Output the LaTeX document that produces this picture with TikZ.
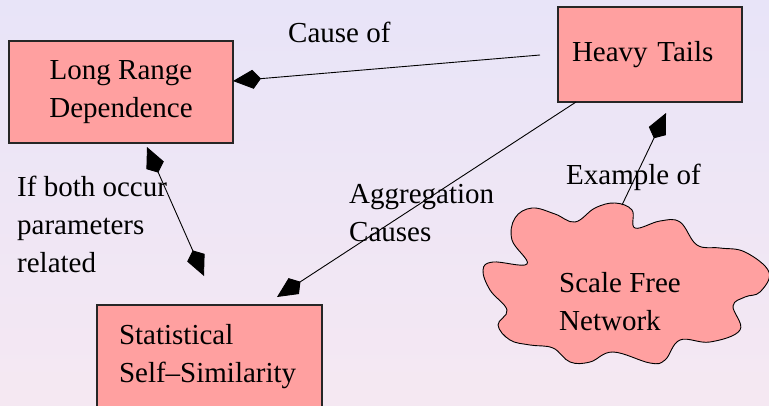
\documentclass[tikz,border=0pt]{standalone}
\usepackage{fontspec}
\setmainfont{Liberation Serif}
\usetikzlibrary{arrows.meta}
\definecolor{bgtop}{RGB}{232,228,248}
\definecolor{bgbot}{RGB}{245,232,242}
\definecolor{boxfill}{RGB}{255,160,160}
\tikzset{
  concept/.style={draw=black!85, line width=1.2pt, fill=boxfill, rectangle, font=\fontsize{29}{38}\selectfont, inner sep=0pt},
  lbl/.style={font=\fontsize{29}{38}\selectfont, inner sep=0pt, align=left, anchor=base west},
  link/.style={line width=0.9pt, draw=black},
  kitehead/.tip={Kite[length=28pt,width=19pt,inset=8pt]},
  cloudshape/.style={draw=black, line width=0.9pt, fill=boxfill}
}
\begin{document}
\begin{tikzpicture}[x=1pt,y=-1pt]
\shade[top color=bgtop,bottom color=bgbot] (0,0) rectangle (769,405);
\useasboundingbox (0,0) rectangle (769,405);

\node[concept, minimum width=224pt, minimum height=102pt, align=center] (lrd) at (121,92) {Long Range\\Dependence};
\node[concept, minimum width=184pt, minimum height=95pt, text width=156pt, align=left] (ht) at (650,54.5) {Heavy Tails};
\node[concept, minimum width=225pt, minimum height=103pt, text width=181pt, align=left] (sss) at (209.5,356.5) {Statistical\\Self–Similarity};

\draw[cloudshape] plot[smooth cycle, tension=0.65] coordinates {
(483,270) (493,262) (527,264) (512,240) (515,218) (532,208) (555,214) (575,222)
(595,208) (615,203) (632,210) (635,228) (660,221) (680,222) (697,245) (720,248)
(745,252) (769,272) (760,292) (745,297) (733,306) (740,330) (710,342) (680,340)
(665,360) (650,363) (613,352) (590,362) (570,362) (553,348) (530,345) (510,340)
(498,325) (507,310) (490,290)};
\node[lbl] (sfn) at (559,330) {Scale Free\\Network};

\node[lbl] (l1) at (288,42) {Cause of};
\node[lbl] (l2) at (349,241) {Aggregation\\Causes};
\node[lbl] (l3) at (566,184) {Example of};
\node[lbl] (l4) at (17,272) {If both occur\\parameters\\related};

\coordinate (c1a) at (540,55); \coordinate (c1b) at (233,81);
\draw[link,-{kitehead}] (c1a) -- (c1b);
\coordinate (c2a) at (147,147); \coordinate (c2b) at (204,276);
\draw[link,{kitehead}-{kitehead}] (c2a) -- (c2b);
\coordinate (c3a) at (576,102); \coordinate (c3b) at (277,297);
\draw[link,-{kitehead}] (c3a) -- (c3b);
\coordinate (c4a) at (622,205); \coordinate (c4b) at (666,113);
\draw[link,-{kitehead}] (c4a) -- (c4b);
\end{tikzpicture}
\end{document}
